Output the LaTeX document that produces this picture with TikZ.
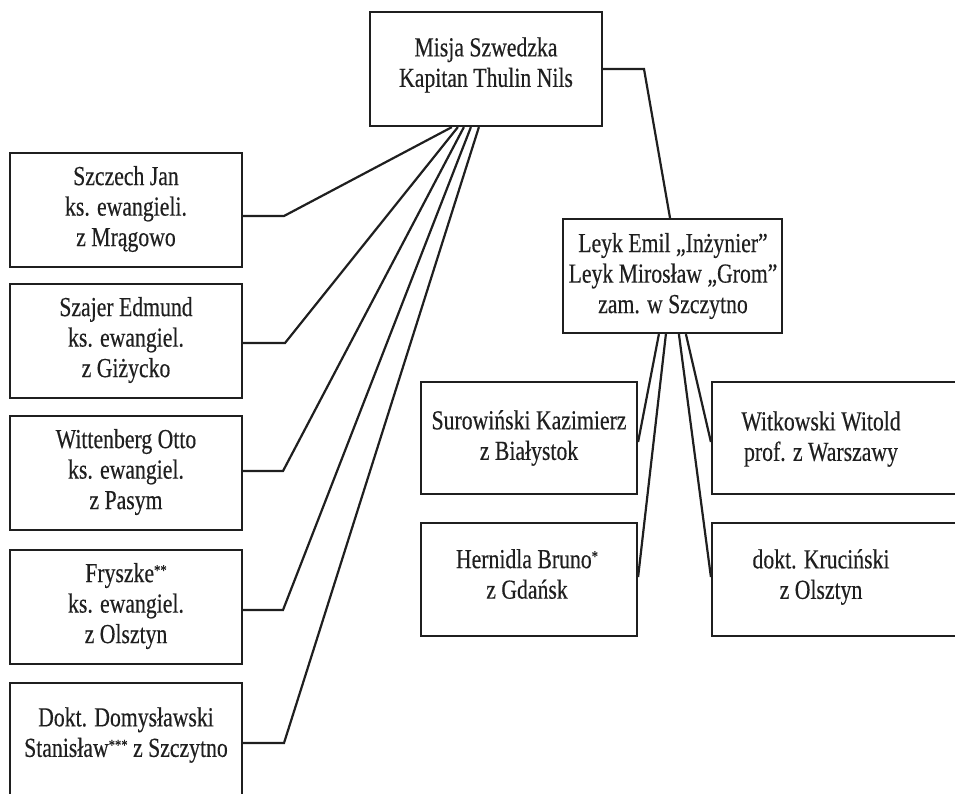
\documentclass[tikz,border=0pt]{standalone}
\usepackage{fontspec}
\setmainfont{Liberation Serif}[FakeStretch=0.79,FakeBold=0.35]
\usetikzlibrary{calc}
\newcommand{\astx}[1]{\raisebox{6.5pt}{\fontsize{16}{16}\selectfont #1}}
\begin{document}
\begin{tikzpicture}[x=1pt,y=-1pt,
  box/.style={draw=black!88, line width=2.2pt, rectangle, inner sep=0pt},
  txt/.style={align=center, inner sep=0pt, text=black!88, font=\fontsize{27.5}{30.5}\selectfont},
  conn/.style={draw=black!88, line width=2.2pt, line join=miter}]
\useasboundingbox (0,0) rectangle (955,793);
\clip (0,0) rectangle (955,793);
% top box
\node[box, minimum width=232pt, minimum height=114pt] (mis) at (486,69) {};
\node[txt] (mist) at (486,65) {Misja Szwedzka\\Kapitan Thulin Nils};
% left column
\node[box, minimum width=232pt, minimum height=114pt] (b1) at (126,210) {};
\node[txt] (b1t) at (126,209) {Szczech Jan\\ks. ewangieli.\\z Mrągowo};
\node[box, minimum width=232pt, minimum height=114pt] (b2) at (126,341) {};
\node[txt] (b2t) at (126,340) {Szajer Edmund\\ks. ewangiel.\\z Giżycko};
\node[box, minimum width=232pt, minimum height=114pt] (b3) at (126,473) {};
\node[txt] (b3t) at (126,472) {Wittenberg Otto\\ks. ewangiel.\\z Pasym};
\node[box, minimum width=232pt, minimum height=114pt] (b4) at (126,607) {};
\node[txt] (b4t) at (126,606) {Fryszke\astx{**}\\ks. ewangiel.\\z Olsztyn};
\node[box, minimum width=232pt, minimum height=118pt] (b5) at (126,742) {};
\node[txt] (b5t) at (126,735) {Dokt. Domysławski\\Stanisław\astx{***} z Szczytno};
% right group
\node[box, minimum width=219pt, minimum height=114pt] (leyk) at (672.5,276) {};
\node[txt] (leykt) at (673,276) {Leyk Emil „Inżynier”\\Leyk Mirosław „Grom”\\zam. w Szczytno};
\node[box, minimum width=216pt, minimum height=112pt] (s1) at (529,438) {};
\node[txt] (s1t) at (529,438) {Surowiński Kazimierz\\z Białystok};
\node[box, minimum width=216pt, minimum height=113pt] (h1) at (529,579.5) {};
\node[txt] (h1t) at (527,574) {Hernidla Bruno\astx{*}\\z Gdańsk};
\node[box, minimum width=260pt, minimum height=112pt] (w1) at (842,438) {};
\node[txt] (w1t) at (821,439) {Witkowski Witold\\prof. z Warszawy};
\node[box, minimum width=260pt, minimum height=113pt] (kr) at (842,579.5) {};
\node[txt] (krt) at (821,577) {dokt. Kruciński\\z Olsztyn};
% connector points
\coordinate (m1) at ($(mis.south west)+(83,0)$);
\coordinate (m2) at ($(mis.south west)+(89,0)$);
\coordinate (m3) at ($(mis.south west)+(95,0)$);
\coordinate (m4) at ($(mis.south west)+(102,0)$);
\coordinate (m5) at ($(mis.south west)+(110,0)$);
\coordinate (kk1) at (284,216);
\coordinate (kk2) at (285,343);
\coordinate (kk3) at (283,471);
\coordinate (kk4) at (283,610);
\coordinate (kk5) at (284,743);
\draw[conn] (b1.east |- kk1) -- (kk1) -- (m1);
\draw[conn] (b2.east |- kk2) -- (kk2) -- (m2);
\draw[conn] (b3.east |- kk3) -- (kk3) -- (m3);
\draw[conn] (b4.east |- kk4) -- (kk4) -- (m4);
\draw[conn] (b5.east |- kk5) -- (kk5) -- (m5);
\coordinate (r1) at (644,69);
\draw[conn] (mis.east) -- (r1) -- ($(leyk.north)+(-2.5,0)$);
\coordinate (l1) at ($(leyk.south west)+(97,0)$);
\coordinate (l2) at ($(leyk.south west)+(104,0)$);
\coordinate (l3) at ($(leyk.south west)+(117,0)$);
\coordinate (l4) at ($(leyk.south west)+(124,0)$);
\draw[conn] (l1) -- ($(s1.east)+(0,4)$);
\draw[conn] (l2) -- ($(h1.east)+(0,-2.5)$);
\draw[conn] (l3) -- ($(kr.west)+(0,-2.5)$);
\draw[conn] (l4) -- ($(w1.west)+(0,4)$);
\end{tikzpicture}
\end{document}
